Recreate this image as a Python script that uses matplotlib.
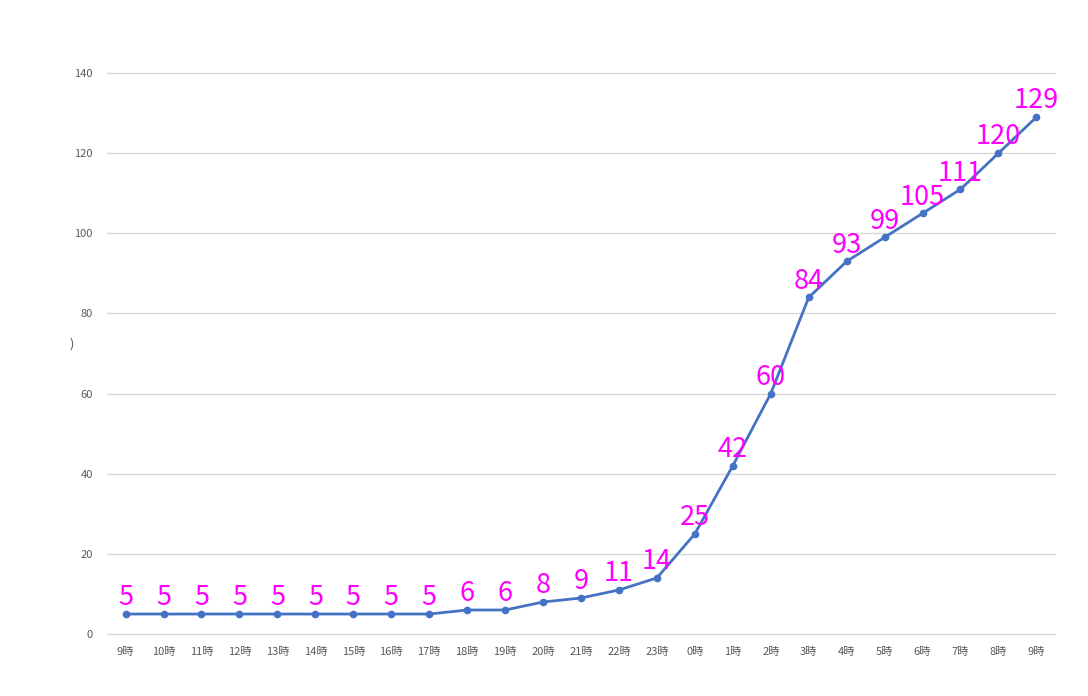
import matplotlib
matplotlib.use('Agg')
import matplotlib.pyplot as plt
import numpy as np

plt.rcParams['font.family'] = ['Noto Sans CJK JP', 'DejaVu Sans']

hours = ['9時', '10時', '11時', '12時', '13時', '14時', '15時', '16時', '17時',
         '18時', '19時', '20時', '21時', '22時', '23時', '0時', '1時', '2時',
         '3時', '4時', '5時', '6時', '7時', '8時', '9時']
counts = [5, 5, 5, 5, 5, 5, 5, 5, 5, 6, 6, 8, 9, 11, 14, 25, 42, 60,
          84, 93, 99, 105, 111, 120, 129]

fig = plt.figure(figsize=(10.88, 6.96), dpi=100)
ax = fig.add_axes([0.098, 0.089, 0.872, 0.806])

x = np.arange(len(hours))
ax.plot(x, counts, color='#4472C4', linewidth=2.0, marker='o', markersize=4.5, zorder=3)

for xi, v in zip(x, counts):
    ax.annotate(str(v), (xi, v), xytext=(0, 2), textcoords='offset points',
                ha='center', va='bottom', fontsize=19.5, color='#FF00FF', zorder=4)

ax.set_xlim(-0.5, len(hours) - 0.5)
ax.set_ylim(0, 140)
ax.set_yticks(range(0, 141, 20))
ax.set_xticks(x)
ax.set_xticklabels(hours)
ax.grid(axis='y', color='#d9d9d9', linewidth=1)
for gl in ax.get_ygridlines():
    gl.set_clip_on(False)
ax.set_axisbelow(True)
for s in ax.spines.values():
    s.set_visible(False)
ax.tick_params(axis='both', length=0, labelsize=8, colors='#595959')
ax.tick_params(axis='x', pad=9)
ax.tick_params(axis='y', pad=10)

fig.text(72 / 1088, 1 - 344 / 696, ')', fontsize=9, color='#595959', ha='center', va='center')

fig.savefig('out.png', dpi=100)
